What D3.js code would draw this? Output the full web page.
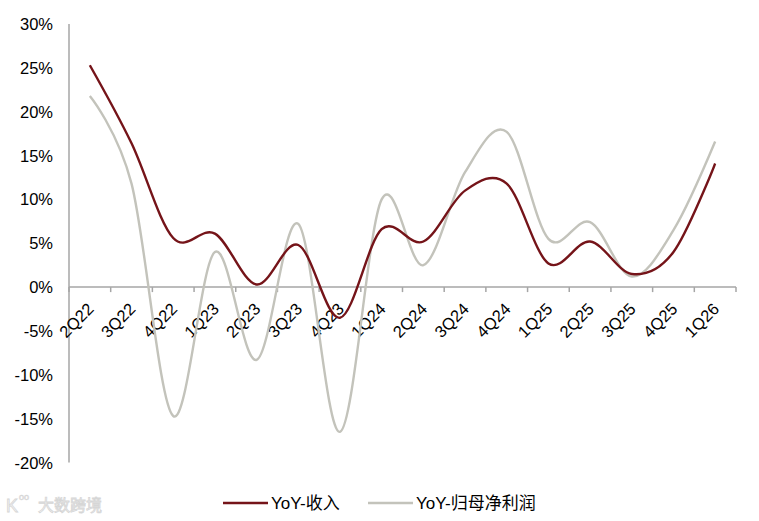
<!DOCTYPE html>
<html>
<head>
<meta charset="utf-8">
<script src="https://cdn.jsdelivr.net/npm/d3@7/dist/d3.min.js"></script>
<style>
  html, body { margin: 0; padding: 0; background: #fff; }
  svg { display: block; }
  text { font-family: "Liberation Sans", Arial, "Noto Sans CJK SC", sans-serif; fill: #000; }
</style>
</head>
<body>
<svg id="chart" width="759" height="521"></svg>
<script>
const categories = ["2Q22","3Q22","4Q22","1Q23","2Q23","3Q23","4Q23","1Q24","2Q24","3Q24","4Q24","1Q25","2Q25","3Q25","4Q25","1Q26"];
const revenueYoY = [25.3, 16.4, 5.6, 6.1, 0.3, 4.8, -3.5, 6.6, 5.2, 11.0, 11.8, 2.7, 5.2, 1.5, 4.0, 14.1];
const profitYoY  = [21.8, 11.8, -14.7, 4.0, -8.3, 7.2, -16.5, 10.0, 2.5, 13.1, 17.7, 5.5, 7.4, 1.2, 6.5, 16.6];
const yTicks = [-20, -15, -10, -5, 0, 5, 10, 15, 20, 25, 30];
const seriesNames = ["YoY-收入", "YoY-归母净利润"];
const seriesColors = ["#751419", "#c3c3bb"];

const svg = d3.select("#chart");
const plotLeft = 69, plotRight = 736, plotTop = 24, plotBottom = 462.5;

const x = d3.scaleBand().domain(categories).range([plotLeft, plotRight]).padding(0);
const y = d3.scaleLinear().domain([-20, 30]).range([plotBottom, plotTop]);
const cx = c => x(c) + x.bandwidth() / 2;
const axisColor = "#a6a6a6";

// Y axis
svg.append("line")
  .attr("x1", plotLeft).attr("x2", plotLeft).attr("y1", y(30)).attr("y2", y(-20))
  .attr("stroke", axisColor).attr("stroke-width", 1.5);
svg.append("g").selectAll("text").data(yTicks).join("text")
  .attr("x", 53).attr("y", d => y(d))
  .attr("text-anchor", "end").attr("dominant-baseline", "central")
  .attr("font-size", "16.5px")
  .text(d => d + "%");

// X axis at 0
const y0 = y(0);
svg.append("line")
  .attr("x1", plotLeft).attr("x2", plotRight).attr("y1", y0).attr("y2", y0)
  .attr("stroke", axisColor).attr("stroke-width", 1.5);
const boundaries = categories.map(c => x(c)).concat([plotRight]);
svg.append("g").selectAll("line").data(boundaries).join("line")
  .attr("x1", d => d).attr("x2", d => d).attr("y1", y0).attr("y2", y0 + 5)
  .attr("stroke", axisColor).attr("stroke-width", 1.5);
svg.append("g").selectAll("text").data(categories).join("text")
  .attr("transform", c => `translate(${cx(c) + 5},${y0 + 23}) rotate(-45)`)
  .attr("text-anchor", "end")
  .attr("font-size", "16.5px")
  .text(c => c);

// Lines
const line = d3.line()
  .x((d, i) => cx(categories[i]))
  .y(d => y(d))
  .curve(d3.curveCardinal.tension(0));

[profitYoY, revenueYoY].forEach((vals, k) => {
  const idx = k === 0 ? 1 : 0;
  svg.append("path")
    .datum(vals)
    .attr("d", line)
    .attr("fill", "none")
    .attr("stroke", seriesColors[idx])
    .attr("stroke-width", 2.4)
    .attr("stroke-linejoin", "round");
});

// Legend
const legendItems = [
  { name: seriesNames[0], color: seriesColors[0], x1: 223, x2: 268, tx: 271 },
  { name: seriesNames[1], color: seriesColors[1], x1: 368, x2: 413, tx: 416 }
];
const lg = svg.append("g");
legendItems.forEach(it => {
  lg.append("line").attr("x1", it.x1).attr("x2", it.x2).attr("y1", 503).attr("y2", 503)
    .attr("stroke", it.color).attr("stroke-width", 2.4);
  lg.append("text").attr("x", it.tx).attr("y", 503)
    .attr("dominant-baseline", "central").attr("font-size", "17px")
    .text(it.name);
});

// Watermark
svg.append("text")
  .attr("x", 38).attr("y", 505)
  .attr("dominant-baseline", "central")
  .attr("font-size", "16px")
  .style("fill", "#f4f4f4")
  .attr("stroke", "#d6d6d6").attr("stroke-width", 0.8)
  .text("大数跨境");
svg.append("text")
  .attr("x", 6).attr("y", 506)
  .attr("dominant-baseline", "central")
  .attr("font-size", "18px")
  .style("fill", "#f4f4f4")
  .attr("stroke", "#d6d6d6").attr("stroke-width", 0.8)
  .text("K");
svg.append("text")
  .attr("x", 19).attr("y", 497)
  .attr("dominant-baseline", "central")
  .attr("font-size", "9px")
  .style("fill", "#f4f4f4")
  .attr("stroke", "#d6d6d6").attr("stroke-width", 0.6)
  .text("oo");
</script>
</body>
</html>
